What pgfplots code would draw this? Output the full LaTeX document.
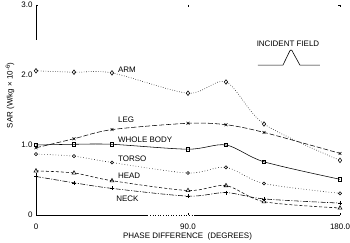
\documentclass[border=0pt]{standalone}
\usepackage{pgfplots}
\pgfplotsset{compat=1.18}
\usepackage{fontspec}
\setmainfont{Liberation Sans}
\begin{document}
\begin{tikzpicture}[font=\fontsize{8}{9}\selectfont]
\begin{axis}[
  at={(0,0)}, anchor=origin,
  scale only axis, width=304bp, height=210bp,
  xmin=0, xmax=180, ymin=0, ymax=3,
  axis line style={draw=none},
  xtick={0,90,180}, xticklabels={0,90.0,180.0},
  ytick={0,3}, yticklabels={0,3.0},
  extra y ticks={1,2}, extra y tick labels={1.0,2.0},
  extra y tick style={major tick length=0pt},
  tick align=inside, major tick length=2.5pt,
  tick style={black, line width=0.5pt},
  xticklabel style={anchor=center, yshift=-12bp},
  /pgf/number format/assume math mode=true,
  clip=false,
  every axis plot/.append style={black, line width=0.55pt, smooth, tension=0.5},
]
% axis lines (with the gaps of the original)
\draw[black, line width=0.6pt] (axis cs:0,0) -- (axis cs:0,0.6);
\draw[black, line width=0.6pt] (axis cs:0,2.5) -- (axis cs:0,3);
\draw[black, line width=0.6pt] (axis cs:0,0) -- (axis cs:66,0);
\draw[black, line width=0.6pt, dotted] (axis cs:66,0) -- (axis cs:94,0);
\draw[black, line width=0.6pt] (axis cs:94,0) -- (axis cs:180,0);

% ARM
\addplot[dash pattern=on 0.6pt off 1.8pt, mark=diamond, mark size=2.3pt, mark options={solid, fill=white}]
 coordinates {(0,2.06) (22.5,2.04) (45,2.03) (90,1.74) (112.5,1.90) (135,1.30) (180,0.78)};
% LEG
\addplot[dash pattern=on 5pt off 2pt, mark=x, mark size=2pt, mark options={solid}]
 coordinates {(0,0.96) (22.5,1.09) (45,1.22) (90,1.31) (112.5,1.29) (135,1.18) (180,0.88)};
% WHOLE BODY
\addplot[solid, mark=square, mark size=1.7pt, mark options={solid, fill=white}]
 coordinates {(0,1.00) (22.5,1.01) (45,1.01) (90,0.94) (112.5,1.00) (135,0.76) (180,0.51)};
% TORSO
\addplot[dash pattern=on 0.6pt off 2.2pt, mark=o, mark size=1.6pt, mark options={solid, fill=white}]
 coordinates {(0,0.87) (22.5,0.84) (45,0.75) (90,0.60) (112.5,0.68) (135,0.45) (180,0.31)};
% HEAD
\addplot[dash pattern=on 3pt off 2pt, mark=triangle, mark size=2.3pt, mark options={solid, fill=white}]
 coordinates {(0,0.63) (22.5,0.60) (45,0.49) (90,0.35) (112.5,0.42) (135,0.19) (180,0.10)};
% NECK
\addplot[dash pattern=on 5pt off 1.5pt on 1pt off 1.5pt, mark=+, mark size=2pt, mark options={solid}]
 coordinates {(0,0.55) (22.5,0.46) (45,0.38) (90,0.27) (112.5,0.32) (135,0.23) (180,0.17)};

% curve labels
\node[anchor=west, inner sep=0pt] at (axis cs:48.5,2.07) {ARM};
\node[anchor=west, inner sep=0pt] at (axis cs:48.5,1.36) {LEG};
\node[anchor=west, inner sep=0pt] at (axis cs:48.5,1.08) {WHOLE BODY};
\node[anchor=west, inner sep=0pt] at (axis cs:48.5,0.81) {TORSO};
\node[anchor=west, inner sep=0pt] at (axis cs:48.5,0.56) {HEAD};
\node[anchor=west, inner sep=0pt] at (axis cs:47.5,0.23) {NECK};

% incident field inset
\node[inner sep=0pt] at (axis cs:149.2,2.44) {INCIDENT FIELD};
\draw[black, line width=0.6pt] (axis cs:131.4,2.14) -- (axis cs:146.2,2.14) -- (axis cs:149.8,2.32)
  .. controls (axis cs:150.6,2.37) and (axis cs:151.4,2.37) .. (axis cs:152.2,2.32)
  -- (axis cs:156.3,2.14) -- (axis cs:168.1,2.14);

% axis labels
\node[rotate=90, inner sep=0pt] at (axis cs:-15.4,1.71) {SAR (W/kg × 10\textsuperscript{-6})};
\node[inner sep=0pt] at (axis cs:89.7,-0.30) {PHASE DIFFERENCE\ \ (DEGREES)};
\end{axis}
\pgfresetboundingbox
\path[use as bounding box] (-36bp,-28bp) rectangle (314bp,215bp);
\end{tikzpicture}
\end{document}
